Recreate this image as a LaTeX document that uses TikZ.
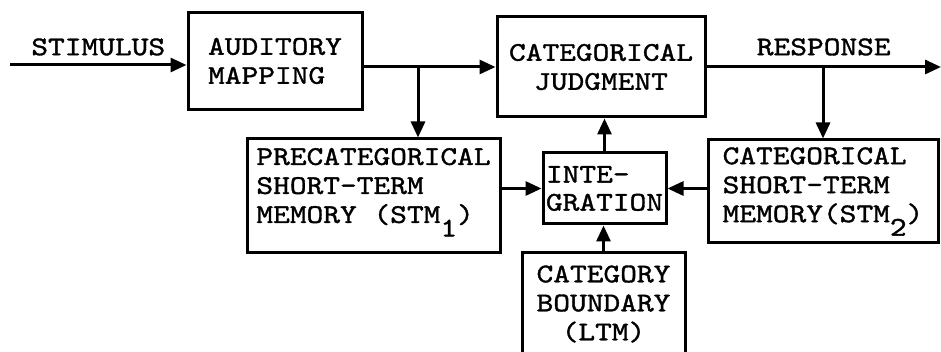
\documentclass[tikz,border=0pt]{standalone}
\usepackage{fontspec}
\setmonofont{lmmono10-regular.otf}[FakeStretch=1.18,FakeBold=1.3]
\usetikzlibrary{arrows.meta,positioning}
\newcommand{\cpsub}[1]{\raisebox{-.5em}{#1}}
\tikzset{
  cpbox/.style={draw, line width=3pt, align=left, inner sep=0pt},
  cparr/.style={-{Triangle[length=16pt,width=14pt]}, line width=3pt},
  cplab/.style={inner sep=0pt}
}

\begin{document}
\begin{tikzpicture}[x=1pt, y=-1pt, font=\ttfamily\fontsize{27}{29}\selectfont]
  \clip (0,0) rectangle (941,352);
  \node[cpbox, minimum width=174pt, minimum height=97pt] (audit) at (275,61) {AUDITORY\\MAPPING};
  \node[cpbox, align=center, minimum width=208pt, minimum height=100pt] (judg) at (601,67) {CATEGORICAL\\JUDGMENT};
  \node[cpbox, minimum width=253pt, minimum height=114pt] (precat) at (373.5,196) {PRECATEGORICAL\\SHORT-TERM\\MEMORY (STM\cpsub{1})\\[-8pt]~};
  \node[cpbox, minimum width=123pt, minimum height=71pt] (integ) at (604.5,188.5) {INTE-\\[-1pt]GRATION};
  \node[cpbox, minimum width=230pt, minimum height=103pt] (catstm) at (823,191.5) {CATEGORICAL\\SHORT-TERM\\MEMORY(STM\cpsub{2})};
  \node[cpbox, align=center, minimum width=163pt, minimum height=102pt] (bound) at (603.5,304) {CATEGORY\\BOUNDARY\\(LTM)};
  \coordinate (stimin) at (10,65);
  \coordinate (split1) at (418,67);
  \coordinate (split2) at (823,67);
  \coordinate (respout) at (941,67);
  % main line
  \draw[cparr] (stimin) -- node[cplab, above=8pt] {STIMULUS} (stimin -| audit.west);
  \draw[cparr] (audit.east |- judg.west) -- (judg.west);
  \draw[cparr] (judg.east) -- node[cplab, above=10pt] {RESPONSE} (respout);
  % branches to memories
  \draw[cparr] (split1) -- (split1 |- precat.north);
  \draw[cparr] (split2) -- (split2 |- catstm.north);
  % into integration
  \draw[cparr] (precat.east |- integ.west) -- (integ.west);
  \draw[cparr] (catstm.west |- integ.east) -- (integ.east);
  \draw[cparr] (bound.north) -- (bound.north |- integ.south);
  \draw[cparr] (integ.north) -- (integ.north |- judg.south);
\end{tikzpicture}
\end{document}
